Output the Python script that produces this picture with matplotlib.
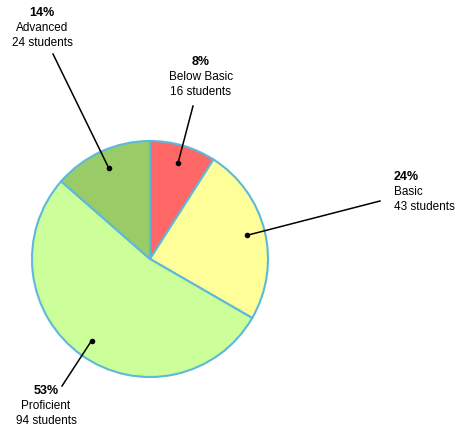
import numpy as np
import matplotlib
matplotlib.use("Agg")
import matplotlib.pyplot as plt

# data
levels = ['Below Basic', 'Basic', 'Proficient', 'Advanced']
students = [16, 43, 94, 24]
pct_labels = ['8%', '24%', '53%', '14%']
colors = ['#FF6666', '#FFFF99', '#CCFF99', '#99CC66']

W, H = 459, 434
plt.rcParams['font.family'] = ['Liberation Sans', 'DejaVu Sans']

fig = plt.figure(figsize=(W / 100, H / 100), dpi=100)
ax = fig.add_axes([0, 0, 1, 1])

cx, cy, r = 150, H - 259, 118
wedges, _ = ax.pie(students, colors=colors, startangle=90, counterclock=False,
                   center=(cx, cy), radius=r,
                   wedgeprops=dict(edgecolor='#5DB9D9', linewidth=1.5))
ax.set_xlim(0, W)
ax.set_ylim(0, H)
ax.set_aspect('equal')
ax.axis('off')

# label layout in pixel coords (x, y from top), alignment, leader line start
layout = {
    'Below Basic': dict(xy=(201, 62), ha='center', start=(193, 106)),
    'Basic': dict(xy=(394, 177), ha='left', start=(380, 201)),
    'Proficient': dict(xy=(46, 391), ha='center', start=(62, 386)),
    'Advanced': dict(xy=(42, 13), ha='center', start=(53, 54)),
}

for w, name, n, pct in zip(wedges, levels, students, pct_labels):
    mid = np.deg2rad((w.theta1 + w.theta2) / 2)
    px = cx + 0.85 * r * np.cos(mid)
    py = cy + 0.85 * r * np.sin(mid)
    lay = layout[name]
    sx, sy = lay['start']
    ax.plot([sx, px], [H - sy, py], color='black', lw=1.1, zorder=3)
    ax.plot(px, py, 'o', color='black', ms=3, zorder=4)
    tx, ty = lay['xy']
    ax.text(tx, H - ty, pct, ha=lay['ha'], va='center', fontsize=9,
            fontweight='bold')
    ax.text(tx, H - ty - 15, name, ha=lay['ha'], va='center', fontsize=8.5)
    ax.text(tx, H - ty - 30, f'{n} students', ha=lay['ha'], va='center',
            fontsize=8.5)

fig.savefig('out.png', dpi=100)
